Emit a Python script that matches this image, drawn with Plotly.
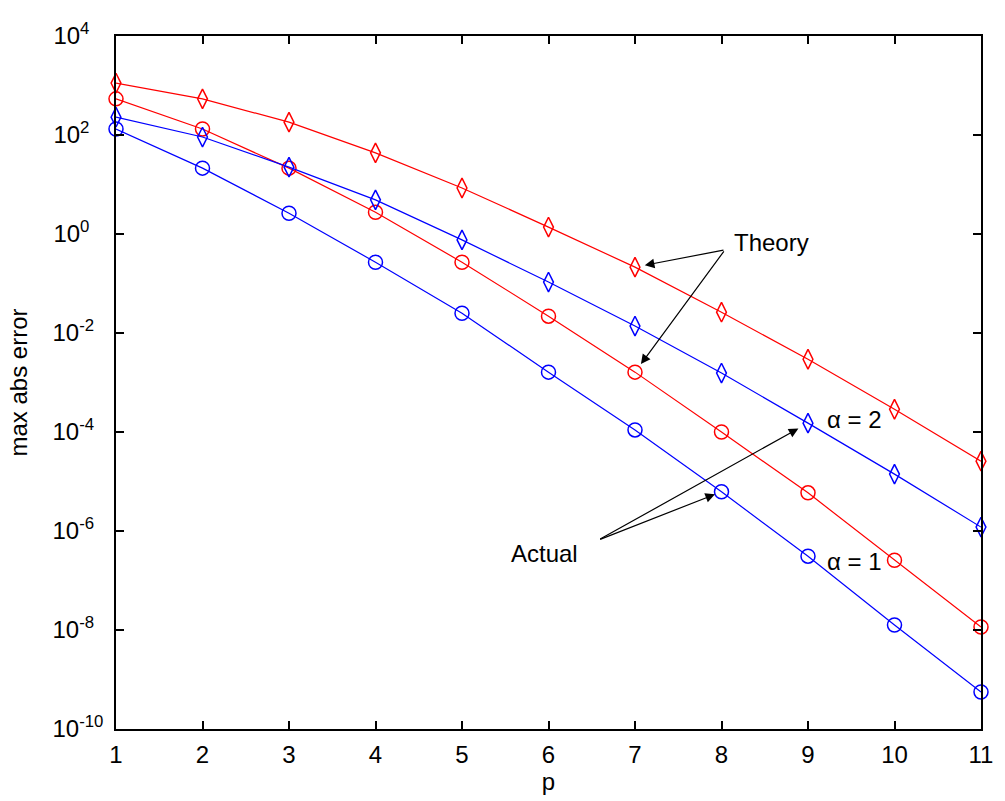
import math
import plotly.graph_objects as go

p = list(range(1, 12))

# Theory (diamonds)
theory_a2 = [1120, 537, 182, 43.6, 8.5, 1.38, 0.214, 0.0263, 2.95e-3, 2.88e-4, 2.57e-5]
theory_a1 = [229, 91, 22.4, 4.9, 0.76, 0.107, 0.0138, 1.55e-3, 1.51e-4, 1.41e-5, 1.2e-6]
# Actual (circles)
actual_a2 = [537, 132, 21.4, 2.75, 0.269, 0.0219, 1.62e-3, 1.0e-4, 5.9e-6, 2.57e-7, 1.15e-8]
actual_a1 = [132, 21.4, 2.63, 0.269, 0.0251, 1.62e-3, 1.1e-4, 6.2e-6, 3.1e-7, 1.26e-8, 5.6e-10]

ytick_exp = [4, 2, 0, -2, -4, -6, -8, -10]
xtick_vals = list(range(1, 12))

RED = "#ff0000"
BLUE = "#0000ff"
FONT = "Liberation Sans, Arial, sans-serif"
FS = 24

fig = go.Figure()

def add(y, color, symbol, size):
    fig.add_trace(go.Scatter(
        x=p, y=y, mode="lines+markers",
        line=dict(color=color, width=1.2),
        marker=dict(symbol=symbol, size=size, color=color,
                    line=dict(color=color, width=1.5)),
        cliponaxis=False, showlegend=False,
    ))

add(theory_a2, RED, "diamond-tall-open", 14)
add(actual_a2, RED, "circle-open", 14)
add(theory_a1, BLUE, "diamond-tall-open", 14)
add(actual_a1, BLUE, "circle-open", 14)

def pad(e):
    s = str(e)
    n = {1: 3, 2: 2, 3: 0}[len(s)]
    return "10<sup>" + s + "\u00a0" * n + "</sup>"

ytick_vals = [10.0 ** e for e in ytick_exp]
ytick_text = [pad(e) for e in ytick_exp]

L = math.log10

annotations = []
def arrow(xh, yh, xt, yt, standoff):
    annotations.append(dict(
        x=xh, y=L(yh), ax=xt, ay=yt, xref="x", yref="y", axref="x", ayref="y",
        text="", showarrow=True, arrowhead=2, arrowsize=1.6, arrowwidth=1.2,
        arrowcolor="black", standoff=standoff,
    ))

# Theory arrows (tail near label)
arrow(p[6], theory_a2[6], 8.04, -0.32, 10)
arrow(p[6], actual_a2[6], 8.04, -0.32, 10)
# Actual arrows
arrow(p[7], actual_a1[7], 6.58, -6.18, 7)
arrow(p[8], theory_a1[8], 6.58, -6.18, 11)

def label(x, y, t):
    annotations.append(dict(x=x, y=y, xref="x", yref="y", text=t, showarrow=False,
                            xanchor="left", yanchor="middle",
                            font=dict(family=FONT, size=FS, color="black")))

label(8.12, -0.18, "Theory")
label(9.2, -3.74, "\u03b1 = 2")
label(9.2, -6.62, "\u03b1 = 1")
label(5.54, -6.46, "Actual")

axis_common = dict(
    showline=True, linecolor="black", linewidth=1.5, mirror="allticks",
    ticks="inside", ticklen=8, tickwidth=1.5, tickcolor="black",
    showgrid=False, zeroline=False,
    tickfont=dict(family=FONT, size=FS, color="black"),
)

fig.update_layout(
    width=1005, height=801,
    margin=dict(l=116, r=13, t=36, b=72),
    paper_bgcolor="white", plot_bgcolor="white",
    font=dict(family=FONT, size=FS, color="black"),
    xaxis=dict(range=[1, 11], tickvals=xtick_vals, ticklabelstandoff=3,
               title=dict(text="p", standoff=4, font=dict(family=FONT, size=FS)),
               **axis_common),
    yaxis=dict(type="log", range=[-10, 4], tickvals=ytick_vals, ticktext=ytick_text,
               ticklabelstandoff=6,
               title=dict(text="max abs error", standoff=18, font=dict(family=FONT, size=FS)),
               **axis_common),
    annotations=annotations,
)

fig.write_html("out.html")
